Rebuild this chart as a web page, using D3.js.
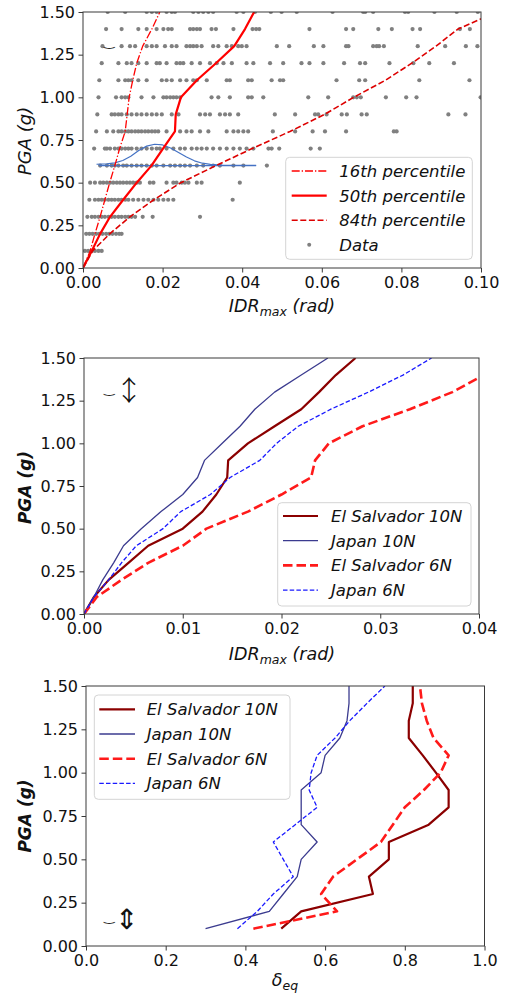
<!DOCTYPE html>
<html>
<head>
<meta charset="utf-8">
<script src="https://cdn.jsdelivr.net/npm/d3@7"></script>
<style>
  body { margin: 0; background: #fff; }
  svg { display: block; }
</style>
</head>
<body>
<svg id="fig" width="508" height="997"></svg>
<script>
// ---------- Panel 1: PGA vs IDRmax, record-by-record data and percentiles ----------
const pgaSteps = [0, 0.1, 0.2, 0.3, 0.4, 0.5, 0.6, 0.7, 0.8, 0.9, 1.0, 1.1, 1.2, 1.3, 1.4, 1.5];

const p16IDR = [0, 0.0018, 0.0030, 0.0043, 0.0055, 0.0067, 0.0080, 0.0092, 0.0106, 0.0111, 0.0116, 0.0125, 0.0135, 0.0150, 0.0173, 0.0193];
const p50IDR = [0, 0.0022, 0.0043, 0.0068, 0.0101, 0.0135, 0.0172, 0.0201, 0.0231, 0.0233, 0.0246, 0.0286, 0.0334, 0.0380, 0.0407, 0.0430];
const p84IDR = [0, 0.0024, 0.0067, 0.0118, 0.0178, 0.0246, 0.0334, 0.0425, 0.0520, 0.0607, 0.0680, 0.0760, 0.0826, 0.0887, 0.0942, 0.1040];

// fitted distribution drawn at PGA = 0.6
const pdfIDR = [0.0034, 0.006, 0.008, 0.010, 0.012, 0.014, 0.016, 0.018, 0.020, 0.022, 0.024, 0.026, 0.028, 0.030, 0.032, 0.035, 0.040, 0.0435];
const pdfPGA = [0.608, 0.610, 0.616, 0.630, 0.655, 0.688, 0.714, 0.725, 0.721, 0.703, 0.677, 0.650, 0.628, 0.614, 0.607, 0.603, 0.602, 0.601];
const pdfBase = [0.004, 0.0435];

// IDRmax of each record, grouped by PGA level
const dataRows = [
  [0.1, [0.0005,0.0013,0.0022,0.003,0.0039,0.0047]],
  [0.2, [0.0008,0.0016,0.0024,0.0033,0.0041,0.0049,0.0058,0.0066,0.0074,0.0083,0.0091,0.0097]],
  [0.3, [0.0011,0.0022,0.003,0.0039,0.0047,0.0055,0.0064,0.0072,0.008,0.0089,0.0097,0.0106,0.0114,0.0122,0.0131,0.015,0.0175,0.0294]],
  [0.4, [0.0016,0.003,0.0039,0.0047,0.0055,0.0064,0.0072,0.008,0.0089,0.0097,0.0106,0.0114,0.0126,0.0139,0.0152,0.0164,0.0177,0.0189,0.0202,0.0214,0.0227,0.0376]],
  [0.5, [0.0018,0.003,0.0043,0.0051,0.006,0.0068,0.0076,0.0085,0.0093,0.0101,0.011,0.0118,0.0126,0.0135,0.0143,0.0168,0.0177,0.021,0.0227,0.0235,0.0248,0.0256,0.0265,0.0286,0.0298,0.0394]],
  [0.6, [0.0043,0.006,0.0072,0.008,0.0089,0.0101,0.011,0.0122,0.0135,0.0147,0.016,0.0173,0.0185,0.0202,0.0219,0.0231,0.0244,0.0256,0.0269,0.0286,0.0302,0.0327,0.0344,0.0378,0.0403,0.0462]],
  [0.7, [0.0028,0.0055,0.006,0.0068,0.008,0.0089,0.0097,0.0106,0.0114,0.0122,0.0135,0.0147,0.016,0.0173,0.0185,0.0193,0.021,0.0227,0.0244,0.0256,0.0273,0.0286,0.0298,0.0311,0.0327,0.0344,0.0361,0.0378,0.0394,0.0411,0.0428,0.0466,0.0474,0.0493,0.0572,0.0595]],
  [0.8, [0.0033,0.006,0.0076,0.0089,0.0097,0.0106,0.0114,0.0122,0.0131,0.0139,0.0147,0.0156,0.0164,0.0173,0.0181,0.0189,0.021,0.0244,0.026,0.0273,0.0294,0.0315,0.0361,0.0378,0.039,0.0403,0.0415,0.0477,0.0533,0.0577,0.0608,0.0661,0.0781,0.0788]],
  [0.9, [0.0036,0.0072,0.008,0.0089,0.0097,0.011,0.0122,0.0135,0.0147,0.016,0.0173,0.0185,0.0198,0.0223,0.024,0.0294,0.0307,0.0319,0.0344,0.0357,0.0369,0.039,0.0482,0.0533,0.0583,0.0591,0.0612,0.065,0.0663,0.07,0.0713,0.0918,0.0961]],
  [1.0, [0.0039,0.0083,0.0097,0.0106,0.0114,0.0147,0.0177,0.0202,0.021,0.0219,0.0227,0.0235,0.0244,0.0323,0.034,0.0369,0.0415,0.0424,0.0453,0.0566,0.0616,0.0679,0.0688,0.0698,0.0761,0.0812,0.0838,0.0999]],
  [1.1, [0.0041,0.0089,0.0106,0.0114,0.0122,0.0139,0.016,0.0198,0.021,0.0223,0.0244,0.026,0.0277,0.0286,0.0311,0.0361,0.0369,0.0415,0.0424,0.0474,0.0495,0.0503,0.0637,0.0694,0.0709,0.0845,0.0971]],
  [1.2, [0.0047,0.0089,0.011,0.0122,0.0139,0.016,0.0185,0.0193,0.021,0.0235,0.0244,0.0252,0.0273,0.0294,0.0319,0.0336,0.0353,0.0374,0.0411,0.0428,0.047,0.0503,0.0549,0.0569,0.0604,0.0656,0.0696,0.0709,0.077,0.083,0.087,0.0932]],
  [1.3, [0.0049,0.0097,0.0118,0.0131,0.016,0.0173,0.0185,0.0206,0.0223,0.0235,0.026,0.0269,0.0277,0.0286,0.0298,0.0327,0.034,0.0361,0.0374,0.039,0.0399,0.0411,0.0487,0.0518,0.058,0.0604,0.0661,0.0667,0.0729,0.0738,0.0744,0.0756,0.0841,0.091,0.0962,0.0991]],
  [1.4, [0.0058,0.0097,0.0139,0.016,0.0185,0.0202,0.0214,0.0223,0.0269,0.0277,0.0286,0.0294,0.0323,0.0334,0.0378,0.0426,0.0435,0.0443,0.0569,0.0661,0.0679,0.0742,0.0776,0.0828,0.0847,0.0947,0.0972]],
  [1.5, [0.0062,0.0106,0.016,0.0173,0.0185,0.021,0.0223,0.0231,0.0277,0.029,0.0302,0.0315,0.0327,0.0386,0.0403,0.0432,0.0472,0.0499,0.0537,0.0627,0.0704,0.0709,0.0729,0.0809,0.0817,0.0883,0.0939,0.0992]]
];

// ---------- Panel 2: median IDRmax per building model ----------
const elSalv10N_idr = [0, 0.0010, 0.0025, 0.0045, 0.0065, 0.0100, 0.0120, 0.0134, 0.0145, 0.0146, 0.0166, 0.0193, 0.0220, 0.0238, 0.0255, 0.0275];
const japan10N_idr  = [0, 0.0010, 0.0019, 0.0030, 0.0040, 0.0058, 0.0078, 0.0100, 0.0115, 0.0122, 0.0140, 0.0158, 0.0173, 0.0193, 0.0220, 0.0247];
const elSalv6N_idr  = [0, 0.0013, 0.0038, 0.0065, 0.0100, 0.0124, 0.0166, 0.0200, 0.0230, 0.0234, 0.0248, 0.0282, 0.0330, 0.0373, 0.0405, 0.0440];
const japan6N_idr   = [0, 0.0010, 0.0025, 0.0038, 0.0053, 0.0080, 0.0098, 0.0128, 0.0148, 0.0178, 0.0195, 0.0217, 0.0250, 0.0288, 0.0323, 0.0352];

// ---------- Panel 3: equivalent damping-type ratio delta_eq ----------
const pgaLevels = [0.1, 0.2, 0.3, 0.4, 0.5, 0.6, 0.7, 0.8, 0.9, 1.0, 1.1, 1.2, 1.3, 1.4, 1.5];
const elSalv10N_deq = [0.49, 0.54, 0.72, 0.71, 0.76, 0.76, 0.86, 0.91, 0.91, 0.878, 0.845, 0.81, 0.81, 0.82, 0.82];
const japan10N_deq  = [0.30, 0.46, 0.495, 0.53, 0.54, 0.58, 0.54, 0.54, 0.54, 0.59, 0.60, 0.637, 0.655, 0.66, 0.66];
const elSalv6N_deq  = [0.42, 0.63, 0.59, 0.62, 0.68, 0.74, 0.77, 0.80, 0.848, 0.89, 0.91, 0.872, 0.855, 0.843, 0.838];
const japan6N_deq   = [0.38, 0.43, 0.47, 0.52, 0.495, 0.47, 0.525, 0.58, 0.56, 0.565, 0.58, 0.625, 0.662, 0.705, 0.75];

// ---------- tick labels ----------
const yTicks = [0, 0.25, 0.5, 0.75, 1.0, 1.25, 1.5];
const xTicks1 = [0, 0.02, 0.04, 0.06, 0.08, 0.10];
const xTicks2 = [0, 0.01, 0.02, 0.03, 0.04];
const xTicks3 = [0, 0.2, 0.4, 0.6, 0.8, 1.0];

// ---------- drawing ----------
const FONT = "'DejaVu Sans', sans-serif";
const svg = d3.select("#fig");

function makePanel(box, xDom, xTickVals, xFmt, id) {
  const x = d3.scaleLinear().domain(xDom).range([box.l, box.r]);
  const y = d3.scaleLinear().domain([0, 1.5]).range([box.b, box.t]);
  const g = svg.append("g");
  g.append("clipPath").attr("id", id).append("rect")
    .attr("x", box.l).attr("y", box.t).attr("width", box.r - box.l).attr("height", box.b - box.t);
  const plot = g.append("g").attr("clip-path", `url(#${id})`);
  const xa = g.append("g").attr("transform", `translate(0,${box.b})`)
    .call(d3.axisBottom(x).tickValues(xTickVals).tickFormat(xFmt).tickSize(4.5).tickPadding(4.5));
  const ya = g.append("g").attr("transform", `translate(${box.l},0)`)
    .call(d3.axisLeft(y).tickValues(yTicks).tickFormat(d3.format(".2f")).tickSize(4.5).tickPadding(3.5));
  [xa, ya].forEach(a => {
    a.select(".domain").remove();
    a.selectAll("text").attr("font-family", FONT).attr("font-size", 16).attr("fill", "#111");
    a.selectAll("line").attr("stroke", "#222").attr("stroke-width", 0.9);
  });
  const top = g.append("g");
  top.append("rect").attr("x", box.l).attr("y", box.t)
    .attr("width", box.r - box.l).attr("height", box.b - box.t)
    .attr("fill", "none").attr("stroke", "#3a3a3a").attr("stroke-width", 1);
  return { x, y, plot, top, box };
}

function drawLine(p, xs, ys, style) {
  const pts = xs.map((v, i) => [v, ys[i]]);
  p.plot.append("path")
    .attr("d", d3.line().x(d => p.x(d[0])).y(d => p.y(d[1]))(pts))
    .attr("fill", "none")
    .attr("stroke", style.color)
    .attr("stroke-width", style.width)
    .attr("stroke-dasharray", style.dash || null)
    .attr("stroke-linejoin", "round");
}

function legend(p, box, items, y0, dy, lineX, textX) {
  p.top.append("rect").attr("x", box.x).attr("y", box.y).attr("width", box.w).attr("height", box.h)
    .attr("rx", 4).attr("fill", "#fff").attr("fill-opacity", 0.85)
    .attr("stroke", "#d4d4d4").attr("stroke-width", 1);
  items.forEach((it, i) => {
    const yy = y0 + i * dy;
    if (it.dot) {
      p.top.append("circle").attr("cx", (lineX[0] + lineX[1]) / 2).attr("cy", yy).attr("r", 2)
        .attr("fill", it.color);
    } else {
      p.top.append("line").attr("x1", lineX[0]).attr("x2", lineX[1]).attr("y1", yy).attr("y2", yy)
        .attr("stroke", it.color).attr("stroke-width", it.width).attr("stroke-dasharray", it.dash || null);
    }
    p.top.append("text").attr("x", textX).attr("y", yy).attr("dy", "0.36em")
      .attr("font-family", FONT).attr("font-size", 16.5).attr("font-style", "italic")
      .attr("fill", "#111").text(it.label);
  });
}

function yLabel(p, cx, cy, bold) {
  svg.append("text").attr("transform", `translate(${cx},${cy}) rotate(-90)`)
    .attr("text-anchor", "middle").attr("dy", "0.35em")
    .attr("font-family", FONT).attr("font-size", bold ? 17 : 18).attr("font-style", "italic")
    .attr("font-weight", bold ? "bold" : "normal").attr("fill", "#111")
    .text("PGA (g)");
}

function idrLabel(cx, baseline) {
  const t = svg.append("text").attr("x", cx).attr("y", baseline).attr("text-anchor", "middle")
    .attr("font-family", FONT).attr("font-size", 17.5).attr("font-style", "italic").attr("fill", "#111");
  t.append("tspan").text("IDR");
  t.append("tspan").attr("font-size", 12.5).attr("dy", 4).text("max");
  t.append("tspan").attr("dy", -4).text(" (rad)");
}

// small stray glyph pair (tie + vertical arrow) drawn in the corner of a panel
function marker(x, y, arrow, size) {
  svg.append("text").attr("x", x).attr("y", y).attr("font-family", FONT).attr("font-size", 13)
    .attr("fill", "#222").text("\u203F");
  if (arrow) {
    svg.append("text").attr("x", x + 11).attr("y", y + 8).attr("font-family", "'Noto Sans CJK JP', sans-serif")
      .attr("font-size", size).attr("font-weight", 300)
      .attr("fill", "#111").text(arrow);
  }
}

// ----- Panel 1 -----
const P1 = makePanel({ l: 83, r: 481, t: 12, b: 268 }, [0, 0.1], xTicks1, d3.format(".2f"), "clip1");
dataRows.forEach(([pga, vals]) => {
  P1.plot.selectAll(null).data(vals).enter().append("circle")
    .attr("cx", d => P1.x(d)).attr("cy", P1.y(pga)).attr("r", 2.1).attr("fill", "#808080");
});
drawLine(P1, pdfBase, [0.6, 0.6], { color: "#4472c4", width: 1.3 });
drawLine(P1, pdfIDR, pdfPGA, { color: "#4472c4", width: 1.2 });
drawLine(P1, p16IDR, pgaSteps, { color: "#ff0000", width: 1.3, dash: "8,2,1.3,2" });
drawLine(P1, p50IDR, pgaSteps, { color: "#ff0000", width: 2.2 });
drawLine(P1, p84IDR, pgaSteps, { color: "#dd0000", width: 1.6, dash: "6,2.6" });
legend(P1, { x: 285.7, y: 157.3, w: 186.6, h: 102 }, [
  { label: "16th percentile", color: "#ff0000", width: 1.3, dash: "8,2,1.3,2" },
  { label: "50th percentile", color: "#ff0000", width: 2.2 },
  { label: "84th percentile", color: "#dd0000", width: 1.6, dash: "6,2.6" },
  { label: "Data", color: "#808080", dot: true }
], 171, 24.6, [291.7, 326.7], 339.3);
yLabel(P1, 25, 141, false);
idrLabel(282, 312);
marker(104, 46, null);

// ----- Panel 2 -----
const P2 = makePanel({ l: 84, r: 479, t: 358, b: 614 }, [0, 0.04], xTicks2, d3.format(".2f"), "clip2");
drawLine(P2, elSalv10N_idr, pgaSteps, { color: "#8b0000", width: 2.2 });
drawLine(P2, japan10N_idr, pgaSteps, { color: "#3b3b8f", width: 1.3 });
drawLine(P2, elSalv6N_idr, pgaSteps, { color: "#ff1a1a", width: 2.6, dash: "9.5,4" });
drawLine(P2, japan6N_idr, pgaSteps, { color: "#1a1aff", width: 1.3, dash: "4.5,2.2" });
legend(P2, { x: 277.7, y: 502.7, w: 193.3, h: 103.3 }, [
  { label: "El Salvador 10N", color: "#8b0000", width: 2.2 },
  { label: "Japan 10N", color: "#3b3b8f", width: 1.3 },
  { label: "El Salvador 6N", color: "#ff1a1a", width: 2.6, dash: "9.5,4" },
  { label: "Japan 6N", color: "#1a1aff", width: 1.3, dash: "4.5,2.2" }
], 516, 24.7, [283, 318], 331);
yLabel(P2, 25, 487.5, true);
idrLabel(282, 660);
marker(104, 393, "\u2195", 28);

// ----- Panel 3 -----
const P3 = makePanel({ l: 86, r: 484.5, t: 686, b: 946 }, [0, 1.0], xTicks3, d3.format(".1f"), "clip3");
drawLine(P3, elSalv10N_deq, pgaLevels, { color: "#8b0000", width: 2.2 });
drawLine(P3, japan10N_deq, pgaLevels, { color: "#3b3b8f", width: 1.3 });
drawLine(P3, elSalv6N_deq, pgaLevels, { color: "#ff1a1a", width: 2.6, dash: "9.5,4" });
drawLine(P3, japan6N_deq, pgaLevels, { color: "#1a1aff", width: 1.3, dash: "4.5,2.2" });
legend(P3, { x: 94.3, y: 695, w: 195.7, h: 104.3 }, [
  { label: "El Salvador 10N", color: "#8b0000", width: 2.2 },
  { label: "Japan 10N", color: "#3b3b8f", width: 1.3 },
  { label: "El Salvador 6N", color: "#ff1a1a", width: 2.6, dash: "9.5,4" },
  { label: "Japan 6N", color: "#1a1aff", width: 1.3, dash: "4.5,2.2" }
], 709.3, 24.7, [99.3, 135], 146.7);
yLabel(P3, 25, 816, true);
const dl = svg.append("text").attr("x", 285).attr("y", 986).attr("text-anchor", "middle")
  .attr("font-family", FONT).attr("font-size", 17.5).attr("font-style", "italic").attr("fill", "#111");
dl.append("tspan").text("\u03B4");
dl.append("tspan").attr("font-size", 12.5).attr("dy", 4).text("eq");
marker(104, 921, "\u21D5", 28);
</script>
</body>
</html>
